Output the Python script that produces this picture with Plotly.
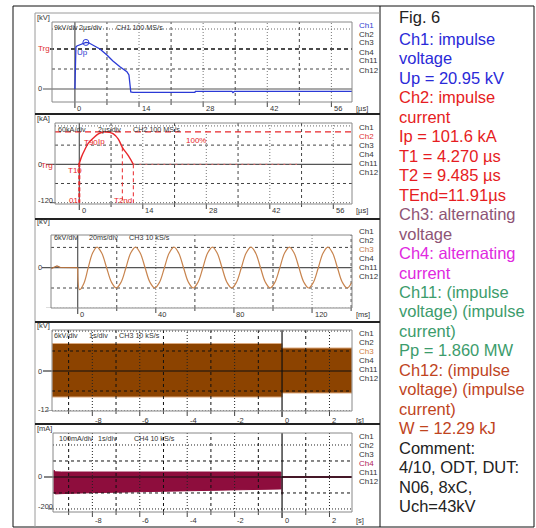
import plotly.graph_objects as go

W, H = 536, 528
def X(p): return p / W
def Y(p): return 1 - p / H

FONT = "Liberation Sans, Arial, sans-serif"

# ---------------- data ----------------
# Panel 1: Ch1 impulse voltage [kV] vs time [us]
ch1_t = [0, 0.05, 0.12, 0.22, 0.44, 1.09, 1.75, 2.4, 3.0, 3.93, 5.46, 6.99, 8.3, 9.83,
         11.35, 11.8, 12.0, 12.2, 12.66, 26.2, 26.3, 34.3, 34.5, 34.8, 60.5]
ch1_v = [0, 8.0, 14.4, 18.9, 19.35, 19.9, 20.7, 20.95, 20.8, 19.8, 18.0, 15.3, 12.6, 10.0,
         7.8, 6.3, 2.7, -1.35, -1.5, -1.5, -1.1, -1.1, -1.6, -1.1, -1.1]
ch1_up_t, ch1_up_v = 2.4, 20.95

# Panel 2: Ch2 impulse current [kA] vs time [us]
ch2_t = [-0.1, 0.0, 0.5, 1.26, 2.0, 3.1, 4.2, 5.3, 6.0, 6.6, 7.5, 8.6, 9.485, 10.8, 11.91]
ch2_i = [0, 3, 24, 47, 66, 82, 95, 101, 101.6, 100, 95, 79, 53, 27, 0]
ch2_tail_t = [11.91, 48.0]
ch2_tail_i = [0, 0]
ch2_ip = 101.6
ch2_t10 = 0.0
ch2_t2, ch2_t2_i = 9.485, 53
ch2_tend = 11.91

# Panel 3: Ch3 alternating voltage [kV] vs time [ms]
ch3_pre_t = [-13.67, -12.0, -10.6, -9.0, -6.0, 0.0]
ch3_pre_v = [-0.3, 0.1, 0.5, 0.1, 0.0, 0.0]
ch3_t = [0, 1.0, 3.2, 5.4, 7.6, 9.9, 12.35, 14.8, 17.3, 19.75, 22.2, 24.7, 27.1, 29.6,
         32.05, 34.5, 37.0, 39.45, 41.9, 44.4, 46.8, 49.3, 51.75, 54.2, 56.7, 59.15,
         61.6, 64.1, 66.5, 69.0, 71.45, 73.9, 76.4, 78.85, 81.3, 83.8, 86.2, 88.7,
         91.15, 93.6, 96.1, 98.55, 101.0, 103.5, 105.9, 108.4, 110.85, 113.3, 115.8,
         118.25, 120.7, 123.2, 125.6, 128.1, 130.55, 133.0, 135.5, 137.95, 140.45]
ch3_v = [0, -6.5, -4.6, 0, 4.3, 6.1, 4.3, 0, -4.3, -6.0, -4.3, 0, 4.3, 6.1,
         4.3, 0, -4.3, -6.0, -4.3, 0, 4.3, 6.1, 4.3, 0, -4.3, -6.0,
         -4.3, 0, 4.3, 6.1, 4.3, 0, -4.3, -6.0, -4.3, 0, 4.3, 6.1,
         4.3, 0, -4.3, -6.0, -4.3, 0, 4.3, 6.1, 4.3, 0, -4.3,
         -6.0, -4.3, 0, 4.3, 6.1, 4.3, 0, -4.3, -6.0, -4.2]

# Panel 4: Ch3 envelope [kV] vs time [s]
ch3_env_t = [-9.70, 0, 0, 2.95, 2.95, 0, 0, -9.70, -9.70]
ch3_env_v = [8.25, 8.25, 6.9, 6.9, -6.6, -6.6, -7.8, -7.8, 8.25]

# Panel 5: Ch4 alternating current [mA] vs time [s]
ch4_env_t = [-9.62, -9.55, -9.3, -8, -6, -4, -2, -0.05,
             -0.05, -2, -4, -6, -8, -9.3, -9.55, -9.62, -9.62]
ch4_env_i = [42, 32, 31, 31, 31, 31, 31, 31,
             -75, -80, -86, -92, -98, -104, -106, -100, 42]
ch4_post_t = [0, 2.95]
ch4_post_i = [0, 0]
ch4_spike_t = [0, 0]
ch4_spike_i = [0, -110]

# axis ticks / grid values
p_ticks = [[0, 14, 28, 42, 56], [0, 14, 28, 42, 56], [0, 40, 80, 120],
           [-8, -6, -4, -2, 0, 2], [-8, -6, -4, -2, 0, 2]]
p_minor = [[7, 21, 35, 49], [7, 21, 35, 49], [20, 60, 100, 140],
           [-9, -7, -5, -3, -1, 1], [-9, -7, -5, -3, -1, 1]]
p_ygrid = [[9, 18, 27], [-120, -60, 60, 120], [-12, -6, 6], [-12, -6, 6, 12],
           [-200, -100, 100, 200]]
p_ylabels = [[(0, "0")], [(0, "0"), (-120, "-120")], [(0, "0"), (-12, "-12")],
             [(0, "0"), (-12, "-12")], [(0, "0"), (-200, "-200")]]
p_units_y = ["[kV]", "[kA]", "[kV]", "[kV]", "[mA]"]
p_units_x = ["[µs]", "[µs]", "[ms]", "[s]", "[s]"]
p_titles = [["9kV/div", "2µs/div", "CH1 100 MS/s"],
            ["60kA/div", "2µs/div", "CH2 100 MS/s"],
            ["6kV/div", "20ms/div", "CH3 10 kS/s"],
            ["6kV/div", "1s/div", "CH3 10 kS/s"],
            ["100mA/div", "1s/div", "CH4 10 kS/s"]]
channels = ["Ch1", "Ch2", "Ch3", "Ch4", "Ch11", "Ch12"]
active = [0, 1, 2, 2, 3]
active_col = ["#3040d0", "#e03030", "#c07a48", "#d08040", "#b02058"]

info_lines = [
    ("Fig. 6", "#222222"),
    ("Ch1: impulse", "#2a2ad8"), ("voltage", "#2a2ad8"), ("Up = 20.95 kV", "#2a2ad8"),
    ("Ch2: impulse", "#e61c22"), ("current", "#e61c22"), ("Ip = 101.6 kA", "#e61c22"),
    ("T1 = 4.270 µs", "#e61c22"), ("T2 = 9.485 µs", "#e61c22"), ("TEnd=11.91µs", "#e61c22"),
    ("Ch3: alternating", "#8e5475"), ("voltage", "#8e5475"),
    ("Ch4: alternating", "#e028e0"), ("current", "#e028e0"),
    ("Ch11: (impulse", "#3c9c6c"), ("voltage) (impulse", "#3c9c6c"), ("current)", "#3c9c6c"),
    ("Pp = 1.860 MW", "#3c9c6c"),
    ("Ch12: (impulse", "#c0441e"), ("voltage) (impulse", "#c0441e"), ("current)", "#c0441e"),
    ("W = 12.29 kJ", "#c0441e"),
    ("Comment:", "#222222"), ("4/10, ODT, DUT:", "#222222"), ("N06, 8xC,", "#222222"),
    ("Uch=43kV", "#222222"),
]

# ---------------- layout geometry (pixels) ----------------
panels = [
    dict(x0=52, x1=352, y0=22, y1=102, xr=[-5.0, 60.5], yr=[-5.85, 30.15], tly=108, ty=27,
         tx=[53, 78, 115], chy=25),
    dict(x0=55, x1=352, y0=123, y1=204, xr=[-5.36, 60.12], yr=[-124.1, 129.1], tly=210, ty=129,
         tx=[57, 97, 132], chy=127.7),
    dict(x0=51, x1=352, y0=235, y1=308, xr=[-13.67, 140.45], yr=[-11.91, 9.67], tly=314, ty=238,
         tx=[53, 88, 128], chy=231),
    dict(x0=52, x1=352, y0=330, y1=411, xr=[-9.70, 2.95], yr=[-12.0, 12.3], tly=420, ty=335,
         tx=[53, 88, 118], chy=333),
    dict(x0=53, x1=352, y0=433, y1=512, xr=[-9.66, 2.95], yr=[-219, 275], tly=520, ty=438,
         tx=[58, 97, 133], chy=436),
]

fig = go.Figure()
shapes = []
annos = []

def ln(xref, yref, x0, y0, x1, y1, color, width=1, dash="solid", layer="above"):
    shapes.append(dict(type="line", xref=xref, yref=yref, x0=x0, y0=y0, x1=x1, y1=y1,
                       line=dict(color=color, width=width, dash=dash), layer=layer))

def txt(text, x, y, size, color, xref="paper", yref="paper", xanchor="left",
        yanchor="middle", xshift=0, yshift=0):
    annos.append(dict(text=text, x=x, y=y, xref=xref, yref=yref, xanchor=xanchor,
                      yanchor=yanchor, showarrow=False, xshift=xshift, yshift=yshift,
                      borderpad=0, font=dict(size=size, color=color, family=FONT)))

layout_axes = {}
for k, p in enumerate(panels):
    n = "" if k == 0 else str(k + 1)
    layout_axes["xaxis" + n] = dict(domain=[X(p["x0"]), X(p["x1"])], range=p["xr"],
                                    anchor="y" + n, visible=False, fixedrange=True)
    layout_axes["yaxis" + n] = dict(domain=[Y(p["y1"]), Y(p["y0"])], range=p["yr"],
                                    anchor="x" + n, visible=False, fixedrange=True)
    xa, ya = "x" + n, "y" + n
    xd, yd = xa + " domain", ya + " domain"
    hgt = p["y1"] - p["y0"]
    wid = p["x1"] - p["x0"]
    glayer = "above" if k >= 3 else "below"
    gcol = "#111111" if k >= 3 else "#444444"
    # grid
    for v in p_minor[k]:
        ln(xa, yd, v, 0, v, 1, gcol, 1, "3px,3px", glayer)
        ln(xa, yd, v, 0, v, -3 / hgt, "#444444", 1)
    for v in p_ticks[k]:
        if v != 0:
            ln(xa, yd, v, 0, v, 1, "#777777" if k < 3 else "#222222", 1, "1px,2px", glayer)
            ln(xa, yd, v, 0, v, -5 / hgt, "#444444", 1)
    for v in p_ygrid[k]:
        if k == 0 and v == 18:
            ln(xd, ya, -2 / wid, v, 1, v, "#111111", 1.5, "4px,3px", glayer)
        elif abs(v) in (27, 120, 12, 200):
            ln(xd, ya, 0, v, 1, v, "#666666" if k < 3 else "#222222", 1, "1px,2px", glayer)
        else:
            ln(xd, ya, 0, v, 1, v, gcol, 1, "3px,3px", glayer)
    # zero axes
    zc = "#111111" if k >= 3 else "#555555"
    ln(xa, yd, 0, -6 / hgt, 0, 1, zc, 1.2, "solid", "above" if k >= 3 else "below")
    ln(xd, ya, -9 / wid, 0, 1, 0, zc, 1.2, "solid", "above" if k >= 3 else "below")
    yl = p_ylabels[k][-1][0]
    if yl != 0:
        ln(xd, ya, -5 / wid, yl, 0, yl, "#555555", 1)
    # plot border
    shapes.append(dict(type="rect", xref=xd, yref=yd, x0=0, y0=0, x1=1, y1=1,
                       line=dict(color="#888888", width=1), layer="above"))
    # tick labels
    for v in p_ticks[k]:
        txt(str(v), v, Y(p["tly"]), 7.5, "#333333", xref=xa, xshift=1.5)
    txt(p_units_x[k], X(355), Y(p["tly"]), 7.5, "#333333")
    for v, s in p_ylabels[k]:
        txt(s, X(37), v, 7.5, "#333333", yref=ya, yshift=2 if v != 0 else 0)
    txt(p_units_y[k], X(36), Y(p["y0"] - 5 if k != 2 else 222), 7.5, "#333333")
    # title pieces
    for s, tx in zip(p_titles[k], p["tx"]):
        txt(s, X(tx), Y(p["ty"]), 7.2, "#333333")
    # channel list
    for j, c in enumerate(channels):
        col = active_col[k] if j == active[k] else "#333333"
        txt(c, X(358), Y(p["chy"] + 9 * j), 8, col)

# ---------------- traces ----------------
fig.add_trace(go.Scatter(x=ch1_t, y=ch1_v, xaxis="x", yaxis="y", mode="lines",
                         line=dict(color="#2b3ad6", width=1.3), hoverinfo="skip"))
fig.add_trace(go.Scatter(x=[ch1_up_t], y=[ch1_up_v], xaxis="x", yaxis="y", mode="markers",
                         marker=dict(symbol="circle-open", size=6, color="#2b3ad6",
                                     line=dict(width=1)), hoverinfo="skip"))

red = "#e8262a"
fig.add_trace(go.Scatter(x=[panels[1]["xr"][0], panels[1]["xr"][1]], y=[ch2_ip, ch2_ip],
                         xaxis="x2", yaxis="y2", mode="lines",
                         line=dict(color=red, width=1.2, dash="6px,4px"), hoverinfo="skip"))
fig.add_trace(go.Scatter(x=[ch2_t10, ch2_t10], y=[3, -120], xaxis="x2", yaxis="y2",
                         mode="lines", line=dict(color=red, width=2, dash="4px,2px"),
                         hoverinfo="skip"))
fig.add_trace(go.Scatter(x=[ch2_t2, ch2_t2], y=[ch2_t2_i, -120], xaxis="x2", yaxis="y2",
                         mode="lines", line=dict(color=red, width=1, dash="4px,3px"),
                         hoverinfo="skip"))
fig.add_trace(go.Scatter(x=[ch2_tend, ch2_tend], y=[0, -120], xaxis="x2", yaxis="y2",
                         mode="lines", line=dict(color=red, width=1, dash="4px,3px"),
                         hoverinfo="skip"))
fig.add_trace(go.Scatter(x=ch2_tail_t, y=ch2_tail_i, xaxis="x2", yaxis="y2", mode="lines",
                         line=dict(color="#e87070", width=1, dash="2px,4px"), hoverinfo="skip"))
fig.add_trace(go.Scatter(x=ch2_t, y=ch2_i, xaxis="x2", yaxis="y2", mode="lines",
                         line=dict(color=red, width=1.4, shape="spline"), hoverinfo="skip"))

fig.add_trace(go.Scatter(x=ch3_pre_t, y=ch3_pre_v, xaxis="x3", yaxis="y3", mode="lines",
                         line=dict(color="#b07040", width=1.2), hoverinfo="skip"))
fig.add_trace(go.Scatter(x=ch3_t, y=ch3_v, xaxis="x3", yaxis="y3", mode="lines",
                         line=dict(color="#c8844e", width=1.2, shape="spline"),
                         hoverinfo="skip"))

fig.add_trace(go.Scatter(x=ch3_env_t, y=ch3_env_v, xaxis="x4", yaxis="y4", mode="lines",
                         fill="toself", fillcolor="#8c4300",
                         line=dict(color="#dcaa80", width=1), hoverinfo="skip"))

maroon = "#8e0d3d"
fig.add_trace(go.Scatter(x=ch4_env_t, y=ch4_env_i, xaxis="x5", yaxis="y5", mode="lines",
                         fill="toself", fillcolor=maroon,
                         line=dict(color=maroon, width=1), hoverinfo="skip"))
fig.add_trace(go.Scatter(x=ch4_post_t, y=ch4_post_i, xaxis="x5", yaxis="y5", mode="lines",
                         line=dict(color="#7a2040", width=2), hoverinfo="skip"))
fig.add_trace(go.Scatter(x=ch4_spike_t, y=ch4_spike_i, xaxis="x5", yaxis="y5", mode="lines",
                         line=dict(color=maroon, width=1), hoverinfo="skip"))

# ---------------- markers / labels inside panels ----------------
txt("Trg", X(37), Y(48), 8, "#e03030")
txt("Up", X(76), Y(52), 8, "#3040d0")
txt("Trg", X(40), Y(165), 8, "#e03030")
txt("T90", X(83), Y(143), 8, red)
txt("Ip", X(97), Y(141), 8, red)
txt("T10", X(67), Y(170), 8, red)
txt("01", X(68), Y(200), 8, red)
txt("T2nd", X(113), Y(200), 8, red)
txt("100%", X(185), Y(140), 8, red)

# ---------------- frame ----------------
shapes.append(dict(type="rect", xref="paper", yref="paper", x0=X(13), y0=Y(527), x1=X(534),
                   y1=Y(6), line=dict(color="#111111", width=1)))
ln("paper", "paper", X(380), Y(6), X(380), Y(527), "#111111", 1)
ln("paper", "paper", X(35), Y(13), X(35), Y(527), "#9a9a9a", 1)
ln("paper", "paper", X(35), Y(13), X(380), Y(13), "#9a9a9a", 1)
for sy in [114, 219, 322, 424]:
    ln("paper", "paper", X(35), Y(sy), X(380), Y(sy), "#222222", 2)

# ---------------- info text column ----------------
for idx, (s, c) in enumerate(info_lines):
    yy = 17 if idx == 0 else 39 + 19.46 * (idx - 1)
    txt(s, X(398), Y(yy), 16.5, c)

fig.update_layout(width=W, height=H, margin=dict(l=0, r=0, t=0, b=0),
                  paper_bgcolor="white", plot_bgcolor="white", showlegend=False,
                  hovermode=False, shapes=shapes, annotations=annos, **layout_axes)

fig.write_html("out.html",
               config={"displayModeBar": False, "staticPlot": True},
               post_script="document.body.style.margin='0';"
                           "document.body.style.overflow='hidden';")
